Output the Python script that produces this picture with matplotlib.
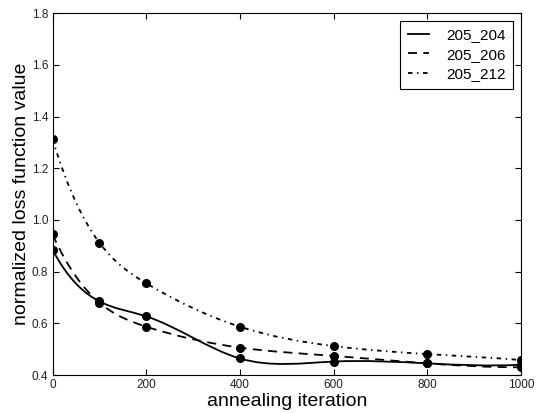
import numpy as np
import matplotlib
matplotlib.use('Agg')
import matplotlib.pyplot as plt
from matplotlib.path import Path
from matplotlib.patches import PathPatch

plt.rcParams['font.family'] = ['Liberation Sans', 'DejaVu Sans']

iterations = [0, 100, 200, 400, 600, 800, 1000]
loss_205_204 = [0.885, 0.685, 0.627, 0.464, 0.452, 0.445, 0.440]
loss_205_206 = [0.944, 0.680, 0.587, 0.506, 0.474, 0.445, 0.430]
loss_205_212 = [1.313, 0.912, 0.755, 0.587, 0.512, 0.481, 0.458]
labels = ['205_204', '205_206', '205_212']


# slopes of a not-a-knot cubic spline through the points
def spline_slopes(x, y):
    x = np.asarray(x, float)
    y = np.asarray(y, float)
    n = len(x)
    h = np.diff(x)
    A = np.zeros((n, n))
    b = np.zeros(n)
    A[0, 0], A[0, 1], A[0, 2] = h[1], -(h[0] + h[1]), h[0]
    A[-1, -3], A[-1, -2], A[-1, -1] = h[-1], -(h[-2] + h[-1]), h[-2]
    for i in range(1, n - 1):
        A[i, i - 1] = h[i - 1]
        A[i, i] = 2 * (h[i - 1] + h[i])
        A[i, i + 1] = h[i]
        b[i] = 6 * ((y[i + 1] - y[i]) / h[i] - (y[i] - y[i - 1]) / h[i - 1])
    M = np.linalg.solve(A, b)
    m = np.zeros(n)
    for i in range(n - 1):
        m[i] = (y[i + 1] - y[i]) / h[i] - h[i] * (2 * M[i] + M[i + 1]) / 6
    m[-1] = (y[-1] - y[-2]) / h[-1] + h[-1] * (M[-2] + 2 * M[-1]) / 6
    return m


def spline_path(x, y):
    m = spline_slopes(x, y)
    verts = [(x[0], y[0])]
    codes = [Path.MOVETO]
    for i in range(len(x) - 1):
        h = x[i + 1] - x[i]
        verts += [(x[i] + h / 3, y[i] + m[i] * h / 3),
                  (x[i + 1] - h / 3, y[i + 1] - m[i + 1] * h / 3),
                  (x[i + 1], y[i + 1])]
        codes += [Path.CURVE4] * 3
    return Path(verts, codes)


fig = plt.figure(figsize=(5.36, 4.13), dpi=100)
ax = fig.add_axes([0.098, 0.092, 0.874, 0.876])

lw = 1.3
styles = ['-', (0, (5, 3.5)), (0, (2.5, 2.5, 0.8, 2.5))]
for vals, ls, lab in zip([loss_205_204, loss_205_206, loss_205_212], styles, labels):
    patch = PathPatch(spline_path(iterations, vals), facecolor='none',
                      edgecolor='black', linewidth=lw, linestyle=ls)
    ax.add_patch(patch)
    ax.plot(iterations, vals, 'o', color='black', markersize=5.5)
    ax.plot([], [], color='black', linewidth=lw, linestyle=ls, label=lab)

ax.set_xlim(0, 1000)
ax.set_ylim(0.4, 1.8)
ax.set_xticks([0, 200, 400, 600, 800, 1000])
ax.set_yticks(np.arange(0.4, 1.81, 0.2))
ax.set_yticklabels(['%.1f' % v for v in np.arange(0.4, 1.81, 0.2)])
ax.tick_params(direction='in', top=True, right=True, labelsize=8.5,
               labelcolor='#222222', length=4, pad=3)
ax.set_xlabel('annealing iteration', fontsize=14, labelpad=1)
ax.set_ylabel('normalized loss function value', fontsize=14, labelpad=1)

leg = ax.legend(loc='upper right', fontsize=11, fancybox=False, framealpha=1,
                edgecolor='black', handlelength=1.4, borderpad=0.5,
                labelspacing=0.35, handletextpad=1.1, borderaxespad=0.5)
leg.get_frame().set_linewidth(0.8)

fig.savefig('out.png', dpi=100)
